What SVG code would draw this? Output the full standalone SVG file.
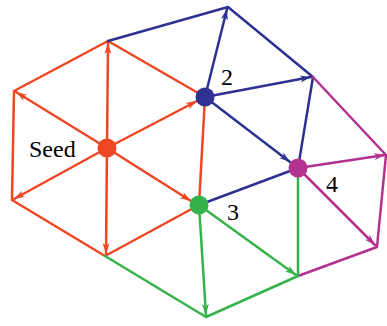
<svg xmlns="http://www.w3.org/2000/svg" width="387" height="326" viewBox="0 0 387 326">
<style>
.r{stroke:#EF4623;}
.b{stroke:#2E3192;}
.m{stroke:#B3318F;}
.g{stroke:#35B34A;}
line,polyline{stroke-width:2.5;fill:none;stroke-linecap:round;stroke-linejoin:round;}
text{font-family:"Liberation Serif","Times New Roman",serif;font-size:24px;fill:#000;}
</style>
<defs>
<marker id="ar" markerUnits="userSpaceOnUse" markerWidth="12" markerHeight="8" refX="11" refY="4" orient="auto"><path d="M0,0.5 L11,4 L0,7.5 L3,4 z" fill="#EF4623"/></marker>
<marker id="ab" markerUnits="userSpaceOnUse" markerWidth="12" markerHeight="8" refX="11" refY="4" orient="auto"><path d="M0,0.5 L11,4 L0,7.5 L3,4 z" fill="#2E3192"/></marker>
<marker id="am" markerUnits="userSpaceOnUse" markerWidth="12" markerHeight="8" refX="11" refY="4" orient="auto"><path d="M0,0.5 L11,4 L0,7.5 L3,4 z" fill="#B3318F"/></marker>
<marker id="ag" markerUnits="userSpaceOnUse" markerWidth="12" markerHeight="8" refX="11" refY="4" orient="auto"><path d="M0,0.5 L11,4 L0,7.5 L3,4 z" fill="#35B34A"/></marker>
</defs>
<g id="connectors">
<polyline class="r" points="205,97 108,41 14,91 12,200 105,256 199,205 205,97"/>
<line class="r" x1="107" y1="148" x2="108" y2="43" marker-end="url(#ar)"/>
<line class="r" x1="107" y1="148" x2="16" y2="92" marker-end="url(#ar)"/>
<line class="r" x1="107" y1="148" x2="14" y2="199" marker-end="url(#ar)"/>
<line class="r" x1="107" y1="148" x2="106" y2="254" marker-end="url(#ar)"/>
<line class="r" x1="107" y1="148" x2="197" y2="101" marker-end="url(#ar)"/>
<line class="r" x1="107" y1="148" x2="191" y2="201" marker-end="url(#ar)"/>
<polyline class="b" points="108,41 228,7 313,77 298,168"/>
<line class="b" x1="199" y1="205" x2="298" y2="168"/>
<line class="b" x1="205" y1="97" x2="227" y2="9" marker-end="url(#ab)"/>
<line class="b" x1="205" y1="97" x2="311" y2="77" marker-end="url(#ab)"/>
<line class="b" x1="205" y1="97" x2="290" y2="162" marker-end="url(#ab)"/>
<polyline class="m" points="313,77 386,155 377,247 298,276"/>
<line class="m" x1="298" y1="168" x2="385" y2="155" marker-end="url(#am)"/>
<line class="m" x1="298" y1="168" x2="375" y2="245" marker-end="url(#am)"/>
<polyline class="g" points="105,256 206,317 298,276 298,168"/>
<line class="g" x1="199" y1="205" x2="296" y2="275" marker-end="url(#ag)"/>
<line class="g" x1="199" y1="205" x2="206" y2="315" marker-end="url(#ag)"/>
</g>
<g id="seed"><circle cx="107" cy="148" r="9.5" fill="#EF4623"/><text x="29" y="157">Seed</text></g>
<g id="node2"><circle cx="205" cy="97" r="9.5" fill="#2E3192"/><text x="221" y="85">2</text></g>
<g id="node3"><circle cx="199" cy="205" r="9.5" fill="#35B34A"/><text x="227" y="220">3</text></g>
<g id="node4"><circle cx="298" cy="168" r="9.5" fill="#B3318F"/><text x="326" y="192">4</text></g>
</svg>
